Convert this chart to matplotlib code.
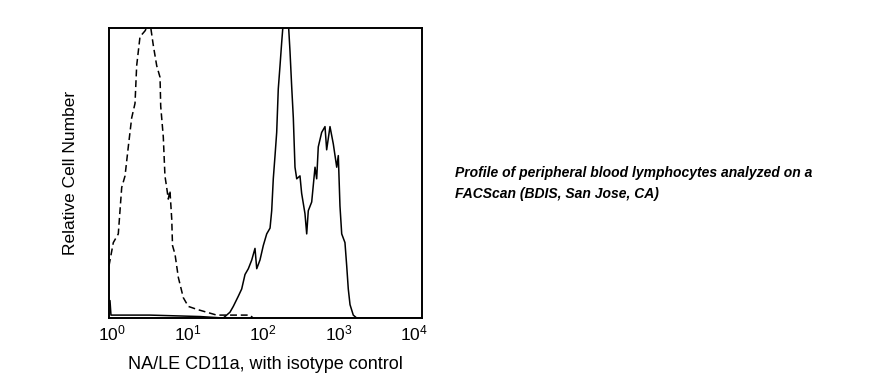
import numpy as np
import matplotlib
matplotlib.use("Agg")
import matplotlib.pyplot as plt

plt.rcParams['font.family'] = ['Liberation Sans', 'DejaVu Sans']
plt.rcParams['mathtext.fontset'] = 'custom'
plt.rcParams['mathtext.rm'] = 'Liberation Sans'
plt.rcParams['mathtext.it'] = 'Liberation Sans:italic'
plt.rcParams['mathtext.default'] = 'regular'

# log10 fluorescence positions and relative cell counts (% of axis height)
isotype_log = [-0.04, 0.017, 0.083, 0.128, 0.172, 0.215, 0.26, 0.304, 0.326, 0.37,
               0.436, 0.502, 0.546, 0.591, 0.635, 0.644, 0.678, 0.70, 0.723, 0.744,
               0.766, 0.79, 0.80, 0.833, 0.877, 0.943, 1.009, 1.12, 1.252, 1.384,
               1.6, 1.825, 1.865]
isotype_cnt = [18, 26, 29, 45, 49, 59, 69, 74, 87, 97,
               99, 102, 94, 87, 83, 73, 62.5, 49, 45, 41,
               44, 34, 25, 22, 14, 7, 4, 3, 2, 1,
               1, 1, 0]

cd11a_log = [-0.04, -0.027, -0.014, 0.5, 1.164, 1.472, 1.56, 1.604, 1.67, 1.715,
             1.759, 1.803, 1.848, 1.891, 1.914, 1.957, 2.001, 2.046, 2.09, 2.112,
             2.133, 2.156, 2.178, 2.199, 2.222, 2.244, 2.265, 2.332, 2.354, 2.376,
             2.398, 2.42, 2.443, 2.486, 2.508, 2.552, 2.575, 2.596, 2.641, 2.685,
             2.707, 2.728, 2.773, 2.817, 2.839, 2.883, 2.927, 2.972, 2.993, 3.015,
             3.038, 3.081, 3.104, 3.125, 3.148, 3.191, 3.236, 4.1]
cd11a_cnt = [6, 6, 1, 1, 0.5, 0, 2, 4, 7.5, 10,
             15, 17, 20, 24, 17, 20, 25, 29, 31, 37,
             48, 56, 64, 79, 87, 95, 102, 102, 92, 80,
             69, 52, 48, 49, 43, 36, 29, 37, 40, 52,
             48, 59, 64, 66, 58, 66, 60, 52, 56, 38.6,
             29, 26, 18, 10, 4.6, 1, 0, 0]

tick_exps = [0, 1, 2, 3, 4]
xlabel = "NA/LE CD11a, with isotype control"
ylabel = "Relative Cell Number"
note = "Profile of peripheral blood lymphocytes analyzed on a\nFACScan (BDIS, San Jose, CA)"

fig = plt.figure(figsize=(8.75, 3.80), dpi=100)
ax = fig.add_axes([109/875, 62/380, 313/875, 290/380])

ax.plot(10**np.array(isotype_log), isotype_cnt, color='black', lw=1.1,
        linestyle=(0, (4.5, 2.5)))
ax.plot(10**np.array(cd11a_log), cd11a_cnt, color='black', lw=1.1)

ax.set_xscale('log')
ax.set_xlim(10**-0.04, 10**4.1)
ax.set_ylim(0, 100)
ax.set_xticks([10**e for e in tick_exps])
ax.set_xticklabels([r'$10^{%d}$' % e for e in tick_exps], fontsize=12.5)
ax.xaxis.set_minor_locator(matplotlib.ticker.NullLocator())
ax.set_yticks([])
ax.tick_params(axis='x', length=0, pad=4)
for s in ax.spines.values():
    s.set_linewidth(1.4)
    s.set_color('black')

ax.set_xlabel(xlabel, fontsize=13, labelpad=9)
ax.set_ylabel(ylabel, fontsize=12.5, labelpad=22)

fig.text(455/875, 1 - 166/380, note, fontsize=10, fontweight='bold', style='italic',
         va='top', ha='left', linespacing=1.6)

fig.savefig('out.png', dpi=100)
